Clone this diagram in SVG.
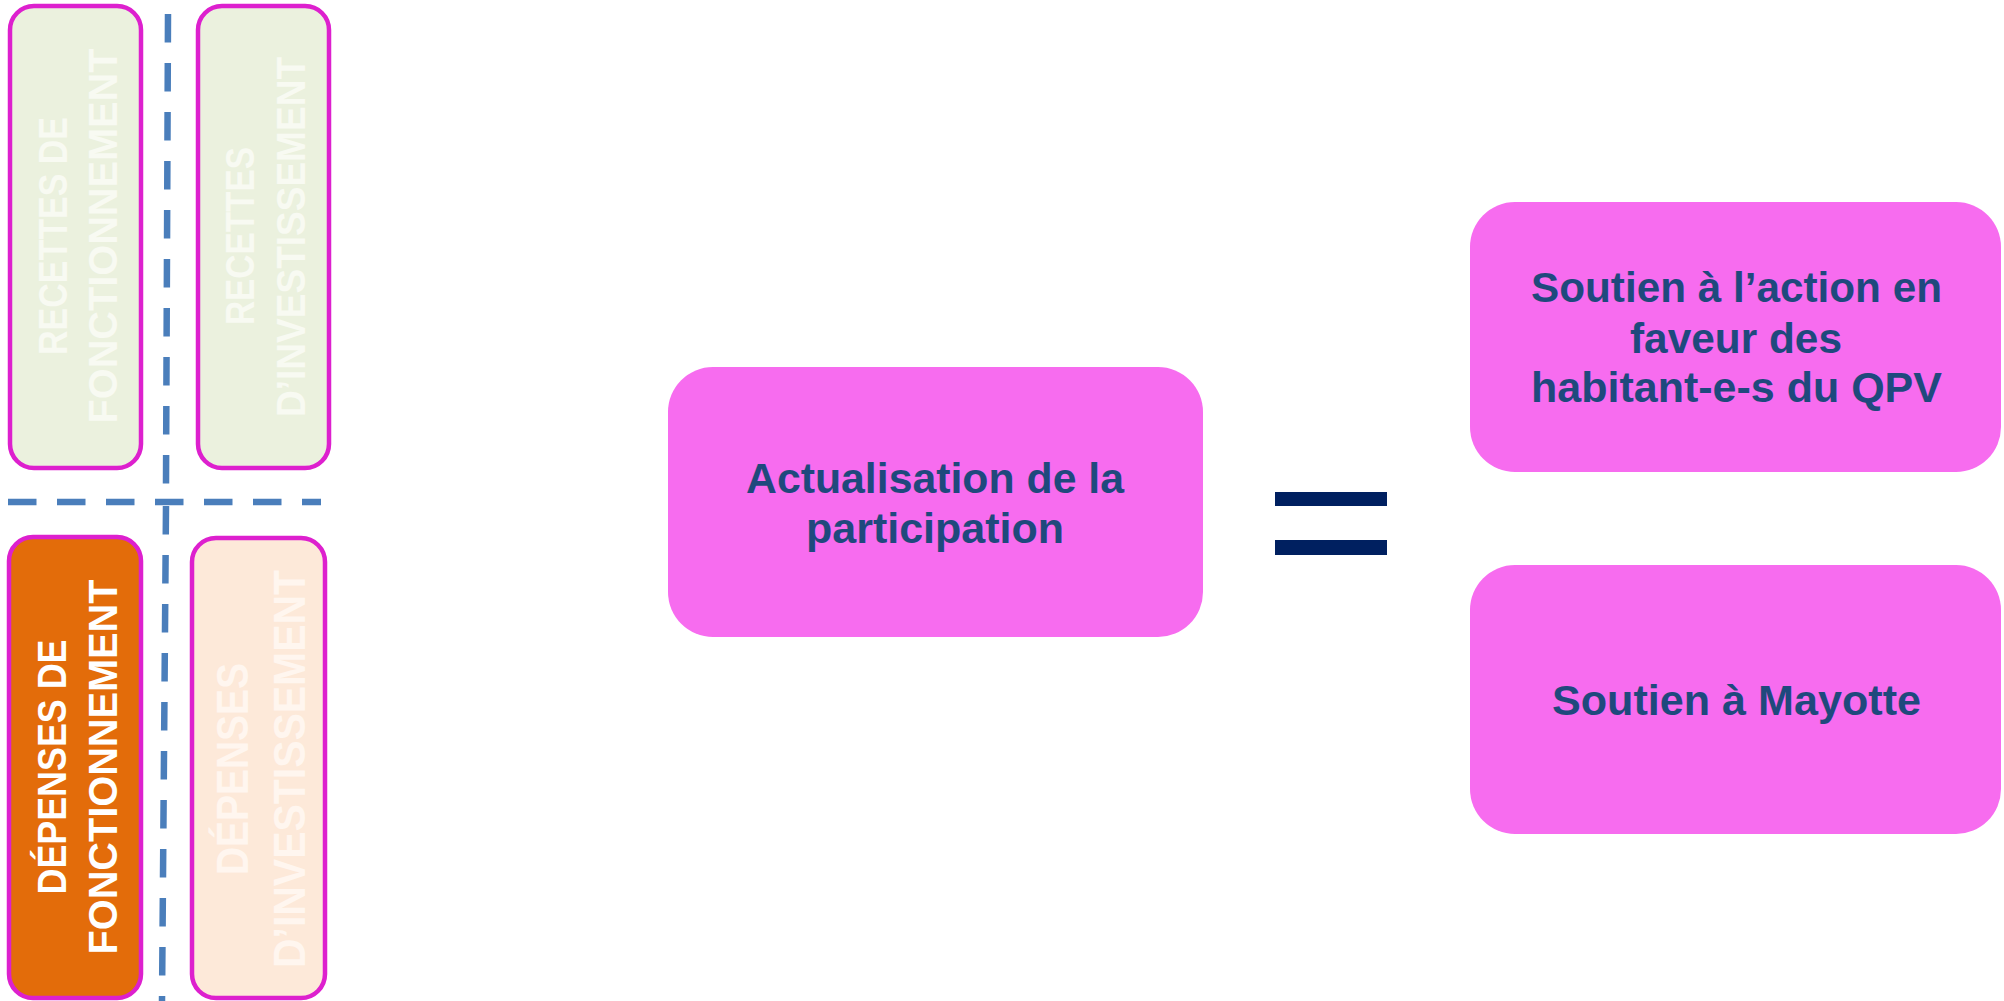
<svg xmlns="http://www.w3.org/2000/svg" width="2004" height="1001" viewBox="0 0 2004 1001">
<style>
.side{stroke:#DD20CE;stroke-width:4.5}
.vt{font-family:"Liberation Sans",Arial,sans-serif;font-weight:bold;font-size:40px;text-anchor:middle}
.pk{fill:#F76CEF}
.mt{font-family:"Liberation Sans",Arial,sans-serif;font-weight:bold;font-size:43px;fill:#1F497D;text-anchor:middle}
.dash{stroke:#4A7EBB;stroke-width:6.5;fill:none;stroke-dasharray:28.5 20.5}
</style>
<rect width="2004" height="1001" fill="#FFFFFF"/>
<g id="connectors">
<line class="dash" x1="168" y1="14" x2="166" y2="484"/>
<line class="dash" x1="8" y1="502" x2="321" y2="502"/>
<line class="dash" x1="166" y1="506" x2="162" y2="1001"/>
</g>
<g id="recettes-fonctionnement">
<rect class="side" x="10" y="6" width="131" height="462" rx="24" fill="#EBF1DE"/>
<text class="vt" fill="#F8FAF2" transform="translate(67,236) rotate(-90)" textLength="238" lengthAdjust="spacingAndGlyphs">RECETTES DE</text>
<text class="vt" fill="#F8FAF2" transform="translate(117,236) rotate(-90)" textLength="375" lengthAdjust="spacingAndGlyphs">FONCTIONNEMENT</text>
</g>
<g id="recettes-investissement">
<rect class="side" x="198" y="6" width="131" height="462" rx="24" fill="#EBF1DE"/>
<text class="vt" fill="#F8FAF2" transform="translate(254,236) rotate(-90)" textLength="178" lengthAdjust="spacingAndGlyphs">RECETTES</text>
<text class="vt" fill="#F8FAF2" transform="translate(305,237) rotate(-90)" textLength="360" lengthAdjust="spacingAndGlyphs">D’INVESTISSEMENT</text>
</g>
<g id="depenses-fonctionnement">
<rect class="side" x="9" y="537" width="132" height="461" rx="24" fill="#E36C0A"/>
<text class="vt" fill="#FFFFFF" transform="translate(66,767) rotate(-90)" textLength="255" lengthAdjust="spacingAndGlyphs">DÉPENSES DE</text>
<text class="vt" fill="#FFFFFF" transform="translate(117,767) rotate(-90)" textLength="375" lengthAdjust="spacingAndGlyphs">FONCTIONNEMENT</text>
</g>
<g id="depenses-investissement">
<rect class="side" x="192" y="538" width="133" height="460" rx="24" fill="#FDE9D9"/>
<text class="vt" fill="#FFF6EF" style="font-size:44px" transform="translate(248,769) rotate(-90)" textLength="212" lengthAdjust="spacingAndGlyphs">DÉPENSES</text>
<text class="vt" fill="#FFF6EF" style="font-size:44px" transform="translate(305,769) rotate(-90)" textLength="398" lengthAdjust="spacingAndGlyphs">D’INVESTISSEMENT</text>
</g>
<g id="actualisation">
<rect class="pk" x="668" y="367" width="535" height="270" rx="45"/>
<text class="mt" x="935" y="493" textLength="378" lengthAdjust="spacingAndGlyphs">Actualisation de la</text>
<text class="mt" x="935" y="543" textLength="258" lengthAdjust="spacingAndGlyphs">participation</text>
</g>
<g id="egal">
<rect x="1275" y="492" width="112" height="14" fill="#002060"/>
<rect x="1275" y="540" width="112" height="15" fill="#002060"/>
</g>
<g id="soutien-qpv">
<rect class="pk" x="1470" y="202" width="531" height="270" rx="45"/>
<text class="mt" x="1736.5" y="302" textLength="411" lengthAdjust="spacingAndGlyphs">Soutien à l’action en</text>
<text class="mt" x="1736" y="353" textLength="212" lengthAdjust="spacingAndGlyphs">faveur des</text>
<text class="mt" x="1736.5" y="402" textLength="411" lengthAdjust="spacingAndGlyphs">habitant-e-s du QPV</text>
</g>
<g id="soutien-mayotte">
<rect class="pk" x="1470" y="565" width="531" height="269" rx="45"/>
<text class="mt" x="1736.5" y="715" textLength="369" lengthAdjust="spacingAndGlyphs">Soutien à Mayotte</text>
</g>
</svg>
